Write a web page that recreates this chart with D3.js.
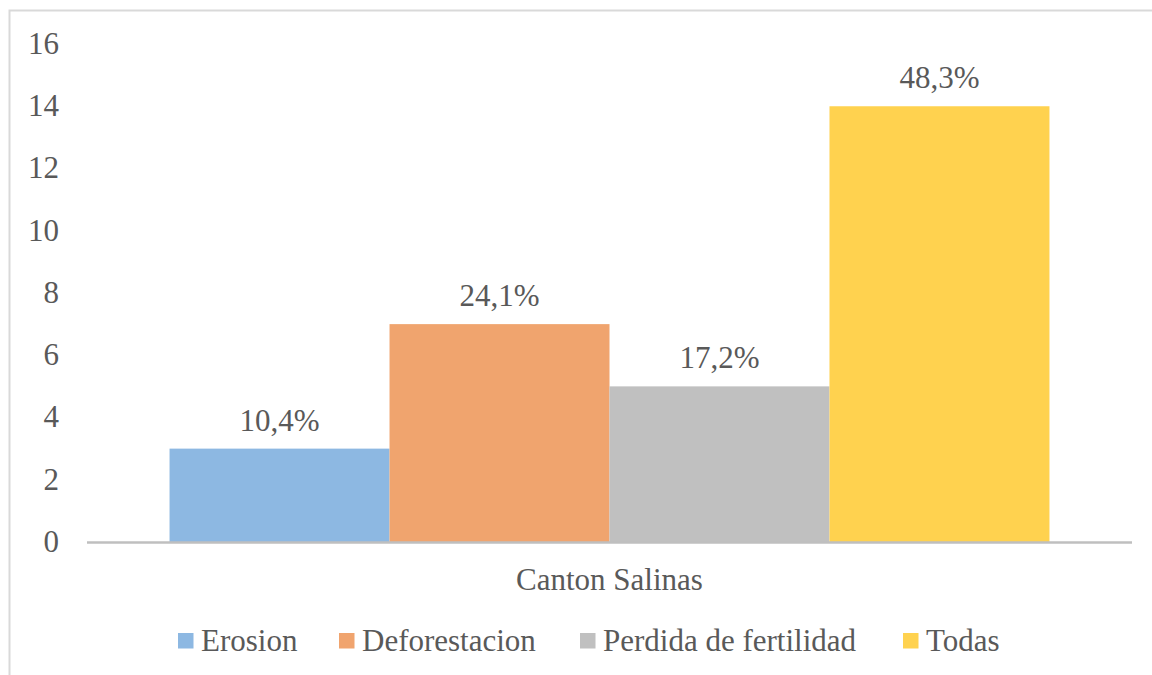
<!DOCTYPE html>
<html>
<head>
<meta charset="utf-8">
<script src="https://cdnjs.cloudflare.com/ajax/libs/d3/7.8.5/d3.min.js"></script>
<style>
  html, body { margin: 0; padding: 0; background: #fff; }
  text { font-family: "Times New Roman", "Liberation Serif", Tinos, serif; }
</style>
</head>
<body>
<div class="container"></div>
<script>
// chart data
var categories = ["Canton Salinas"];
var seriesNames = ["Erosion", "Deforestacion", "Perdida de fertilidad", "Todas"];
var seriesValues = [3, 7, 5, 14];
var seriesLabels = ["10,4%", "24,1%", "17,2%", "48,3%"];
var seriesColors = ["#8db8e2", "#f0a46e", "#c0c0c0", "#ffd24f"];
var yTicks = [0, 2, 4, 6, 8, 10, 12, 14, 16];

var width = 1152, height = 675;
var plot = {left: 87, right: 1132, top: 44, bottom: 542};
var fontSize = 31;
var textColor = "#595959";

var svg = d3.select('.container').append("svg")
	.attr("width", width)
	.attr("height", height);

var y = d3.scaleLinear()
	.domain([0, 16])
	.range([plot.bottom, plot.top]);

var x0 = d3.scaleBand()
	.domain(categories)
	.range([plot.left, plot.right])
	.paddingInner(0)
	.paddingOuter(0.0938);

var x1 = d3.scaleBand()
	.domain(seriesNames)
	.range([0, x0.bandwidth()])
	.padding(0);

function styleText(sel) {
	sel.attr("font-size", fontSize)
		.attr("fill", textColor);
}

var data = seriesNames.map(function (name, i) {
	return {name: name, value: seriesValues[i], label: seriesLabels[i], color: seriesColors[i]};
});

// y tick labels
svg.selectAll("text.ytick")
	.data(yTicks)
	.enter()
	.append("text")
		.attr("class", "ytick")
		.attr("x", plot.left - 28)
		.attr("y", function (d) { return y(d); })
		.attr("dy", "0.32em")
		.attr("text-anchor", "end")
		.call(styleText)
		.text(function (d) { return d; });

// bars
var gx = x0(categories[0]);

svg.selectAll("rect.bar")
	.data(data)
	.enter()
	.append("rect")
		.attr("class", "bar")
		.attr("x", function (d) { return gx + x1(d.name); })
		.attr("y", function (d) { return y(d.value); })
		.attr("width", x1.bandwidth())
		.attr("height", function (d) { return y(0) - y(d.value); })
		.attr("fill", function (d) { return d.color; });

// value labels
svg.selectAll("text.lbl")
	.data(data)
	.enter()
	.append("text")
		.attr("class", "lbl")
		.attr("x", function (d) { return gx + x1(d.name) + x1.bandwidth() / 2; })
		.attr("y", function (d) { return y(d.value) - 18; })
		.attr("text-anchor", "middle")
		.call(styleText)
		.text(function (d) { return d.label; });

// x axis baseline
svg.append("line")
	.attr("x1", x0.range()[0])
	.attr("x2", x0.range()[1])
	.attr("y1", y(0) + 0.5)
	.attr("y2", y(0) + 0.5)
	.attr("stroke", "#bfbfbf")
	.attr("stroke-width", 2.5);

svg.selectAll("text.cat")
	.data(categories)
	.enter()
	.append("text")
		.attr("class", "cat")
		.attr("x", function (d) { return x0(d) + x0.bandwidth() / 2; })
		.attr("y", plot.bottom + 48)
		.attr("text-anchor", "middle")
		.call(styleText)
		.text(function (d) { return d; });

// legend
var legendY = 651;
var legendX = [178, 339, 580, 903];

svg.selectAll("rect.key")
	.data(data)
	.enter()
	.append("rect")
		.attr("class", "key")
		.attr("x", function (d, i) { return legendX[i]; })
		.attr("y", legendY - 18)
		.attr("width", 15.5)
		.attr("height", 15.5)
		.attr("fill", function (d) { return d.color; });

svg.selectAll("text.key")
	.data(data)
	.enter()
	.append("text")
		.attr("class", "key")
		.attr("x", function (d, i) { return legendX[i] + 23; })
		.attr("y", legendY)
		.call(styleText)
		.text(function (d) { return d.name; });

// outer chart frame (only left and top edges show)
svg.append("path")
	.attr("d", "M9.5," + height + "V10.5H" + width)
	.attr("fill", "none")
	.attr("stroke", "#d9d9d9")
	.attr("stroke-width", 2);
</script>
</body>
</html>
